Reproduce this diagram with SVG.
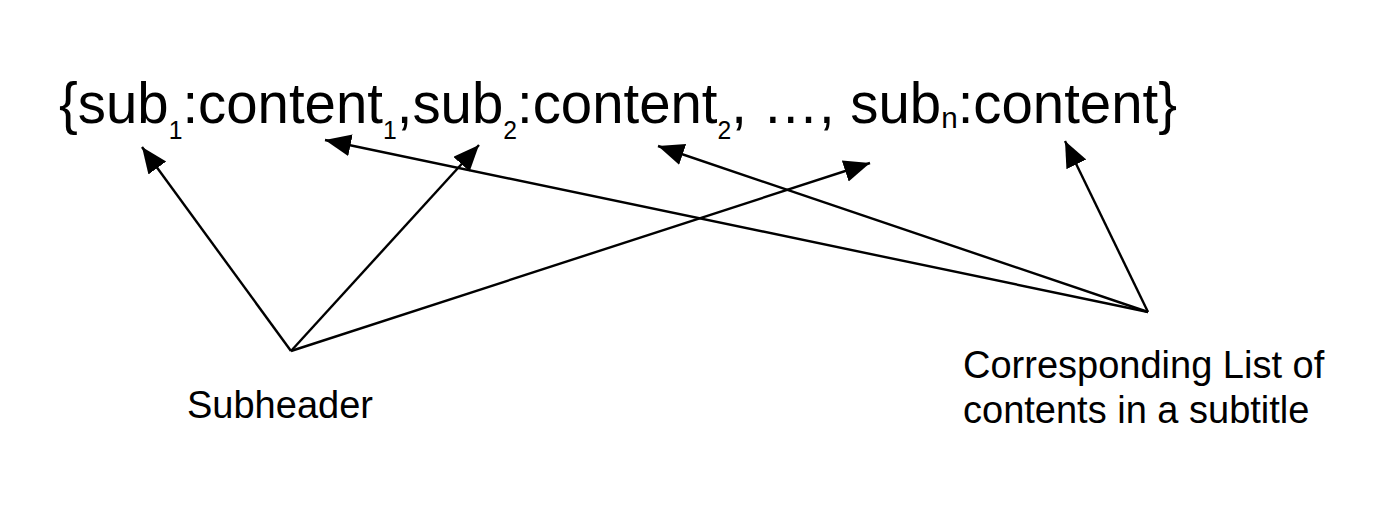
<svg xmlns="http://www.w3.org/2000/svg" width="1380" height="532" viewBox="0 0 1380 532">
<style>
.t{font-family:"Liberation Sans",Arial,sans-serif;fill:#000}
.main{font-size:57px}
.sub{font-size:25px}
.lbl{font-size:38px}
.c{stroke:#000;stroke-width:2.4;fill:none}
</style>
<defs>
<marker id="ah" markerUnits="userSpaceOnUse" markerWidth="28" markerHeight="24" refX="26" refY="11" orient="auto">
<path d="M0,0 L26,11 L0,22 Z" fill="#000"/>
</marker>
</defs>
<rect width="1380" height="532" fill="#fff"/>
<g id="formula">
<text class="t main" x="59" y="123" textLength="1118" lengthAdjust="spacingAndGlyphs">{sub<tspan class="sub" dy="16">1</tspan><tspan dy="-16">:content</tspan><tspan class="sub" dy="16">1</tspan><tspan dy="-16">,sub</tspan><tspan class="sub" dy="16">2</tspan><tspan dy="-16">:content</tspan><tspan class="sub" dy="16">2</tspan><tspan dy="-16">, …, sub</tspan><tspan style="font-size:30px" dy="5">n</tspan><tspan dy="-5">:content}</tspan></text>
</g>
<g id="subheader">
<text class="t lbl" x="187" y="418">Subheader</text>
</g>
<g id="contents-label">
<text class="t lbl" x="963" y="378">Corresponding List of</text>
<text class="t lbl" x="963" y="423">contents in a subtitle</text>
</g>
<g id="connectors">
<line class="c" x1="291" y1="351" x2="142" y2="147" marker-end="url(#ah)"/>
<line class="c" x1="291" y1="351" x2="479" y2="145" marker-end="url(#ah)"/>
<line class="c" x1="291" y1="351" x2="870" y2="163" marker-end="url(#ah)"/>
<line class="c" x1="1148" y1="312" x2="325" y2="140" marker-end="url(#ah)"/>
<line class="c" x1="1148" y1="312" x2="658" y2="146" marker-end="url(#ah)"/>
<line class="c" x1="1148" y1="312" x2="1065" y2="141" marker-end="url(#ah)"/>
</g>
</svg>
